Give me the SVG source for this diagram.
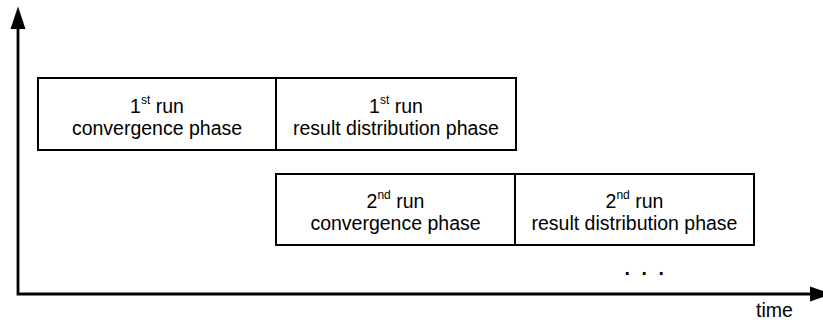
<svg xmlns="http://www.w3.org/2000/svg" width="823" height="322" viewBox="0 0 823 322">
  <style>
    .box { fill: #ffffff; stroke: #000000; stroke-width: 2; }
    .lbl { font-family: "Liberation Sans", Arial, sans-serif; font-size: 19.5px; fill: #000000; text-anchor: middle; }
    .sup { font-size: 12px; }
    .axis { fill: none; stroke: #000000; stroke-width: 2.8; }
    .head { fill: #000000; }
  </style>
  <rect width="823" height="322" fill="#ffffff"/>
  <g id="connectors">
    <path class="axis" d="M18,27 V294 H812"/>
    <polygon class="head" points="18,6.5 25.5,29 10.5,29"/>
    <polygon class="head" points="832,294 810,286.5 810,301.5"/>
  </g>
  <g id="run1-convergence">
    <rect class="box" x="38" y="78" width="238" height="72"/>
    <text class="lbl" x="157" y="112.5">1<tspan class="sup" dy="-9">st</tspan><tspan dy="9"> run</tspan></text>
    <text class="lbl" x="157" y="135">convergence phase</text>
  </g>
  <g id="run1-distribution">
    <rect class="box" x="276" y="78" width="240" height="72"/>
    <text class="lbl" x="396" y="112.5">1<tspan class="sup" dy="-9">st</tspan><tspan dy="9"> run</tspan></text>
    <text class="lbl" x="396" y="135">result distribution phase</text>
  </g>
  <g id="run2-convergence">
    <rect class="box" x="276" y="174" width="239" height="71"/>
    <text class="lbl" x="395.5" y="208">2<tspan class="sup" dy="-9">nd</tspan><tspan dy="9"> run</tspan></text>
    <text class="lbl" x="395.5" y="230">convergence phase</text>
  </g>
  <g id="run2-distribution">
    <rect class="box" x="515" y="174" width="239" height="71"/>
    <text class="lbl" x="634.5" y="208">2<tspan class="sup" dy="-9">nd</tspan><tspan dy="9"> run</tspan></text>
    <text class="lbl" x="634.5" y="230">result distribution phase</text>
  </g>
  <g id="ellipsis">
    <text class="lbl" style="text-anchor:start; font-weight:bold" x="624.5 641.5 658.5" y="275">...</text>
  </g>
  <g id="time-label">
    <text class="lbl" x="774.5" y="316.5">time</text>
  </g>
</svg>
